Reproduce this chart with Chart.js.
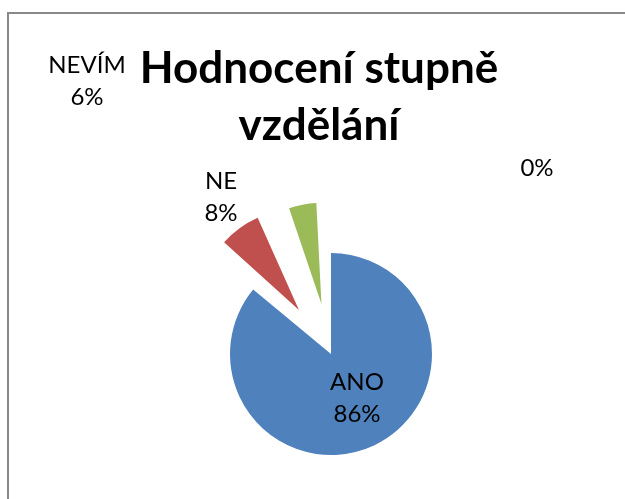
<!DOCTYPE html>
<html>
<head>
<meta charset="utf-8">
<script src="https://cdn.jsdelivr.net/npm/chart.js@4"></script>
<style>
  html, body { margin: 0; padding: 0; background: #fff; overflow: hidden; }
  #page { position: relative; width: 625px; height: 499px; overflow: hidden; }
  #ftop { position: absolute; left: 7px; top: 12px; width: 618px; height: 2px; background: #898989; }
  #fleft { position: absolute; left: 7px; top: 12px; width: 2px; height: 487px; background: #898989; }
  #wrap { position: absolute; left: 0; top: 0; width: 625px; height: 499px; }
</style>
</head>
<body>
<div id="page">
<div id="ftop"></div>
<div id="fleft"></div>
<div id="wrap"><canvas id="c" width="625" height="499"></canvas></div>
</div>
<script>
const categories = ['ANO', 'NE', 'NEVÍM', ''];
const values = [86, 8, 6, 0];
const titleLines = ['Hodnocení stupně', 'vzdělání'];

const colors = ['#4F81BD', '#C0504D', '#9BBB59', '#8064A2'];
const explode = [0, 218, 204, 0];
const pieRadius = 101;
// label anchor (centre of text block) in canvas pixels
const labelAnchors = [[357, 398], [221, 197], [87, 81], [537, 168]];

// keep exploded slices at the same radius as the others
const keepRadius = {
  id: 'keepRadius',
  beforeDatasetsDraw(chart) {
    const meta = chart.getDatasetMeta(0);
    meta.data.forEach((arc, i) => {
      const off = (explode[i] || 0) / 4;
      const circ = arc.endAngle - arc.startAngle;
      const fix = 1 - Math.sin(Math.min(Math.PI, circ || 0));
      arc.outerRadius = pieRadius - off * fix;
    });
  }
};

const labelPlugin = {
  id: 'sliceLabels',
  afterDatasetsDraw(chart) {
    const ctx = chart.ctx;
    ctx.save();
    ctx.font = '24px Lato';
    ctx.fillStyle = '#000';
    ctx.textAlign = 'center';
    ctx.textBaseline = 'middle';
    const lh = 32;
    categories.forEach((cat, i) => {
      const [x, y] = labelAnchors[i];
      const pct = values[i] + '%';
      const lines = cat ? [cat, pct] : [pct];
      const y0 = y - (lines.length - 1) * lh / 2;
      lines.forEach((t, j) => ctx.fillText(t, x, y0 + j * lh));
    });
    ctx.restore();
  }
};

new Chart(document.getElementById('c'), {
  type: 'pie',
  data: {
    labels: categories,
    datasets: [{
      data: values,
      backgroundColor: colors,
      borderWidth: 0,
      offset: explode
    }]
  },
  options: {
    responsive: false,
    animation: false,
    radius: pieRadius,
    layout: { padding: { left: 13, right: 0, top: 0, bottom: 0 } },
    plugins: {
      legend: { display: false },
      tooltip: { enabled: false },
      title: {
        display: true,
        text: titleLines,
        color: '#000',
        font: { family: 'Lato', size: 44, weight: 'bold', lineHeight: '57px' },
        padding: { top: 40, bottom: 55 }
      },
      subtitle: {
        display: true,
        position: 'left',
        fullSize: false,
        text: ' ',
        font: { size: 24, lineHeight: '24px' },
        padding: 0
      }
    }
  },
  plugins: [keepRadius, labelPlugin]
});
</script>
</body>
</html>
